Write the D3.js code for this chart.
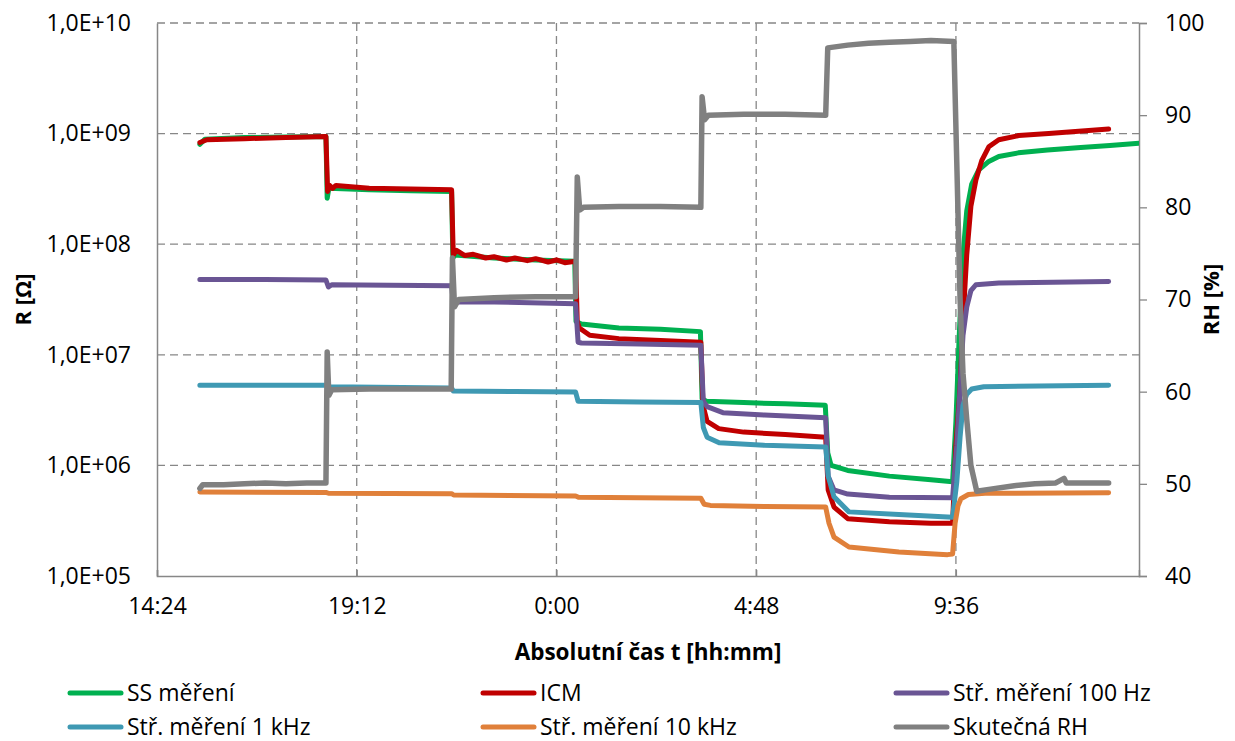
<!DOCTYPE html>
<html>
<head>
<meta charset="utf-8">
<script src="https://cdn.jsdelivr.net/npm/d3@7"></script>
<style>
  body { margin: 0; background: #fff; }
  text { font-family: "Open Sans", sans-serif; fill: #000; }
</style>
</head>
<body>
<figure id="chart" style="margin:0"></figure>
<script>
// time is in hours from midnight of the first day (values > 24 are next day)
const xTicks = [14.4, 19.2, 24, 28.8, 33.6];
const leftTicks = [1e5, 1e6, 1e7, 1e8, 1e9, 1e10];
const rightTicks = [40, 50, 60, 70, 80, 90, 100];

const seriesNames = ["SS měření", "ICM", "Stř. měření 100 Hz", "Stř. měření 1 kHz", "Stř. měření 10 kHz", "Skutečná RH"];

const ssData = [
  [15.43, 8.0e8], [15.55, 8.9e8], [16.5, 9.2e8], [17.5, 9.3e8], [18.46, 9.4e8],
  [18.49, 2.6e8], [18.53, 3.2e8], [19.5, 3.1e8], [20.5, 3.05e8], [21.48, 3.0e8],
  [21.51, 7.5e7], [21.56, 8.0e7], [22.5, 7.5e7], [23.5, 7.2e7], [24.44, 7.0e7],
  [24.47, 2.0e7], [24.6, 1.9e7], [25.5, 1.75e7], [26.5, 1.7e7], [27.46, 1.62e7],
  [27.5, 4.0e6], [27.6, 3.8e6], [28.5, 3.7e6], [29.5, 3.6e6], [30.46, 3.5e6],
  [30.52, 1.3e6], [30.6, 1.0e6], [31.0, 9.0e5], [32.0, 8.0e5], [33.0, 7.4e5], [33.52, 7.1e5],
  [33.6, 2.5e6], [33.68, 1.5e7], [33.77, 8e7], [33.86, 2e8], [33.98, 3.5e8], [34.15, 4.7e8],
  [34.39, 5.6e8], [34.63, 6.2e8], [35.1, 6.7e8], [35.8, 7.1e8], [36.6, 7.5e8], [37.3, 7.8e8], [38.0, 8.2e8]
];

const icmData = [
  [15.43, 8.3e8], [15.6, 8.8e8], [16.5, 9.0e8], [17.5, 9.2e8], [18.46, 9.4e8],
  [18.5, 3.0e8], [18.55, 3.4e8], [18.62, 3.2e8], [18.7, 3.4e8], [19.5, 3.2e8], [20.5, 3.15e8], [21.48, 3.1e8],
  [21.52, 8.0e7], [21.6, 8.8e7], [21.8, 7.9e7], [22.0, 8.1e7], [22.3, 7.5e7], [22.5, 7.7e7], [22.8, 7.2e7],
  [23.0, 7.5e7], [23.3, 7.1e7], [23.5, 7.4e7], [23.8, 6.9e7], [24.0, 7.2e7], [24.2, 6.8e7], [24.46, 7.0e7],
  [24.5, 2.0e7], [24.55, 1.75e7], [24.8, 1.5e7], [25.5, 1.4e7], [26.5, 1.35e7], [27.47, 1.3e7],
  [27.52, 3.5e6], [27.62, 2.5e6], [27.9, 2.15e6], [28.5, 2.0e6], [29.5, 1.9e6], [30.47, 1.8e6],
  [30.53, 6e5], [30.67, 4.2e5], [31.0, 3.3e5], [32.0, 3.1e5], [33.0, 3.0e5], [33.52, 3.0e5],
  [33.6, 1.5e6], [33.7, 5e6], [33.77, 2e7], [33.86, 8e7], [33.96, 2.2e8], [34.08, 3.8e8], [34.22, 5.7e8],
  [34.39, 7.6e8], [34.63, 8.8e8], [35.11, 9.6e8], [35.83, 1.0e9], [36.55, 1.05e9], [37.27, 1.1e9]
];

const hz100Data = [
  [15.43, 4.8e7], [17.0, 4.8e7], [18.46, 4.75e7], [18.52, 4.1e7], [18.6, 4.3e7], [20.0, 4.25e7], [21.48, 4.2e7],
  [21.52, 3.0e7], [22.5, 3.0e7], [24.46, 2.9e7],
  [24.52, 1.3e7], [24.6, 1.28e7], [26.0, 1.25e7], [27.47, 1.22e7],
  [27.53, 3.8e6], [27.62, 3.4e6], [28.0, 3.0e6], [29.0, 2.85e6], [30.47, 2.7e6],
  [30.53, 8e5], [30.67, 6.0e5], [31.0, 5.5e5], [32.0, 5.15e5], [33.52, 5.1e5],
  [33.62, 1.5e6], [33.7, 5e6], [33.77, 1.5e7], [33.86, 2.7e7], [33.96, 3.8e7], [34.08, 4.3e7],
  [34.63, 4.45e7], [37.27, 4.6e7]
];

const khz1Data = [
  [15.43, 5.3e6], [18.46, 5.3e6], [18.5, 5.15e6], [21.48, 5.0e6],
  [21.52, 4.7e6], [23.0, 4.65e6], [24.46, 4.6e6],
  [24.52, 3.8e6], [26.0, 3.75e6], [27.47, 3.7e6],
  [27.53, 2.2e6], [27.62, 1.8e6], [27.91, 1.6e6], [29.0, 1.52e6], [30.47, 1.47e6],
  [30.53, 8e5], [30.67, 5.2e5], [31.03, 3.8e5], [32.23, 3.6e5], [33.52, 3.4e5],
  [33.62, 7e5], [33.7, 1.8e6], [33.77, 3.5e6], [33.86, 4.4e6], [33.98, 4.9e6], [34.27, 5.15e6], [37.27, 5.3e6]
];

const khz10Data = [
  [15.43, 5.75e5], [18.46, 5.7e5], [18.52, 5.6e5], [21.48, 5.55e5],
  [21.53, 5.4e5], [24.46, 5.3e5],
  [24.53, 5.15e5], [26.0, 5.1e5], [27.47, 5.05e5],
  [27.55, 4.45e5], [27.7, 4.35e5], [29.0, 4.25e5], [30.47, 4.2e5],
  [30.55, 3.0e5], [30.67, 2.25e5], [31.03, 1.83e5], [32.23, 1.65e5], [33.4, 1.56e5], [33.52, 1.58e5],
  [33.58, 3.0e5], [33.65, 4.3e5], [33.72, 5.0e5], [33.9, 5.45e5], [34.3, 5.6e5], [37.27, 5.65e5]
];

const rhData = [
  [15.43, 49.5], [15.5, 49.9], [16.0, 49.9], [16.5, 50.0], [17.0, 50.1], [17.5, 50.0], [18.0, 50.1], [18.46, 50.1],
  [18.49, 64.3], [18.53, 59.6], [18.6, 60.2], [19.5, 60.3], [20.5, 60.3], [21.47, 60.3],
  [21.5, 74.5], [21.55, 69.2], [21.65, 70.0], [22.5, 70.2], [23.5, 70.3], [24.46, 70.3],
  [24.5, 83.3], [24.56, 79.7], [24.65, 80.0], [25.5, 80.1], [26.5, 80.1], [27.47, 80.0],
  [27.5, 92.0], [27.56, 89.5], [27.65, 90.0], [28.5, 90.1], [29.5, 90.1], [30.47, 90.0],
  [30.52, 97.3], [31.0, 97.6], [31.5, 97.8], [32.0, 97.9], [32.5, 98.0], [33.0, 98.1], [33.55, 98.0],
  [33.62, 85], [33.7, 70], [33.77, 62], [33.86, 57], [33.96, 52], [34.1, 49.2], [34.39, 49.4],
  [35.0, 49.8], [35.5, 50.0], [36.0, 50.1], [36.2, 50.6], [36.25, 50.1], [37.27, 50.1]
];

const colors = ["#00b050", "#c00000", "#6a5594", "#3f99b3", "#e0803a", "#808080"];

const W = 1235, H = 741;
const mLeft = 157, mRight = 1139, mTop = 23, mBottom = 576;

const svg = d3.select("#chart").append("svg")
  .attr("width", W)
  .attr("height", H);

const x = d3.scaleLinear().domain([14.4, 38]).range([mLeft, mRight]);
const y = d3.scaleLog().domain([1e5, 1e10]).range([mBottom, mTop]);
const y2 = d3.scaleLinear().domain([40, 100]).range([mBottom, mTop]);

const gridColor = "#878787";

// dashed grid
svg.append("g").selectAll("line")
  .data(leftTicks.slice(1))
  .enter().append("line")
  .attr("x1", mLeft).attr("x2", mRight)
  .attr("y1", d => y(d)).attr("y2", d => y(d))
  .attr("stroke", gridColor).attr("stroke-width", 1.3)
  .attr("stroke-dasharray", "8,5");

svg.append("g").selectAll("line")
  .data(xTicks.slice(1))
  .enter().append("line")
  .attr("x1", d => x(d)).attr("x2", d => x(d))
  .attr("y1", mTop).attr("y2", mBottom)
  .attr("stroke", gridColor).attr("stroke-width", 1.3)
  .attr("stroke-dasharray", "8,5");

// axes
const xAxis = svg.append("g")
  .attr("transform", "translate(0," + mBottom + ")")
  .call(d3.axisBottom(x).tickValues(xTicks).tickSize(-6).tickPadding(22)
    .tickFormat(d => Math.floor(d % 24) + ":" + String(Math.round((d % 1) * 60)).padStart(2, "0")));

const yAxis = svg.append("g")
  .attr("transform", "translate(" + mLeft + ",0)")
  .call(d3.axisLeft(y).tickValues(leftTicks).tickSize(0).tickPadding(26)
    .tickFormat(d => "1,0E+" + String(Math.round(Math.log10(d))).padStart(2, "0")));

const y2Axis = svg.append("g")
  .attr("transform", "translate(" + mRight + ",0)")
  .call(d3.axisRight(y2).tickValues(rightTicks).tickSize(8).tickPadding(18));

[xAxis, yAxis, y2Axis].forEach(a => {
  a.select(".domain").attr("stroke", gridColor).attr("stroke-width", 1.5);
  a.selectAll(".tick line").attr("stroke", gridColor).attr("stroke-width", 1.3);
  a.selectAll(".tick text").style("font-size", "23px").attr("fill", "#000");
});

// clip to plot area
svg.append("clipPath").attr("id", "plot")
  .append("rect").attr("x", mLeft).attr("y", mTop - 5)
  .attr("width", mRight - mLeft).attr("height", mBottom - mTop + 5);

const line = d3.line().x(d => x(d[0])).y(d => y(d[1]));
const line2 = d3.line().x(d => x(d[0])).y(d => y2(d[1]));

const rSeries = [ssData, icmData, hz100Data, khz1Data, khz10Data];
const plot = svg.append("g").attr("clip-path", "url(#plot)");

rSeries.forEach((s, i) => {
  plot.append("path")
    .datum(s)
    .attr("d", line)
    .attr("fill", "none")
    .attr("stroke", colors[i])
    .attr("stroke-width", 5)
    .attr("stroke-linejoin", "round")
    .attr("stroke-linecap", "round");
});

// RH on secondary axis, drawn last
plot.append("path")
  .datum(rhData)
  .attr("d", line2)
  .attr("fill", "none")
  .attr("stroke", colors[5])
  .attr("stroke-width", 5.5)
  .attr("stroke-linejoin", "round")
  .attr("stroke-linecap", "round");

// axis titles
svg.append("text")
  .attr("transform", "translate(31," + ((mTop + mBottom) / 2) + ") rotate(-90)")
  .attr("text-anchor", "middle")
  .attr("font-weight", "bold")
  .style("font-size", "22px")
  .text("R [Ω]");

svg.append("text")
  .attr("transform", "translate(1219," + ((mTop + mBottom) / 2) + ") rotate(-90)")
  .attr("text-anchor", "middle")
  .attr("font-weight", "bold")
  .style("font-size", "22px")
  .text("RH [%]");

svg.append("text")
  .attr("x", 648).attr("y", 660)
  .attr("text-anchor", "middle")
  .attr("font-weight", "bold")
  .style("font-size", "22.5px")
  .text("Absolutní čas t [hh:mm]");

// legend, 3 columns x 2 rows
const legendCols = [70, 483, 896];
const legendRows = [693, 727];
const legend = svg.append("g");
seriesNames.forEach((name, i) => {
  const lx = legendCols[i % 3], ly = legendRows[Math.floor(i / 3)];
  legend.append("line")
    .attr("x1", lx).attr("x2", lx + 51)
    .attr("y1", ly).attr("y2", ly)
    .attr("stroke", colors[i])
    .attr("stroke-width", 5)
    .attr("stroke-linecap", "round");
  legend.append("text")
    .attr("x", lx + 57).attr("y", ly)
    .attr("dy", "0.35em")
    .style("font-size", "23px")
    .text(name);
});
</script>
</body>
</html>
